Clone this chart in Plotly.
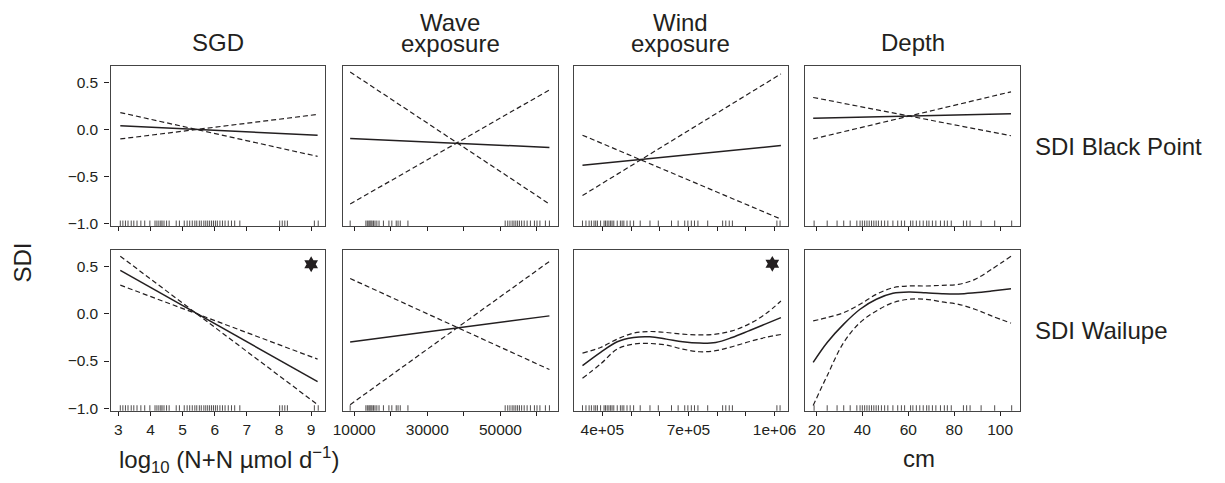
import plotly.graph_objects as go
from plotly.subplots import make_subplots

W, H = 1225, 483
INK = "#231f20"
FONT = "Liberation Sans, Arial, sans-serif"

# ---------------- data ----------------
col_titles = [["SGD"], ["Wave", "exposure"], ["Wind", "exposure"], ["Depth"]]
row_labels = ["SDI Black Point", "SDI Wailupe"]

# SGD (log10 N+N)
sgd_x = [3.06, 9.20]
sgd_bp_fit = [0.04, -0.06]
sgd_bp_lo = [0.18, -0.285]
sgd_bp_hi = [-0.10, 0.16]
sgd_wl_fit = [0.455, -0.717]
sgd_wl_lo = [0.605, -0.96]
sgd_wl_hi = [0.30, -0.48]

# Wave exposure
wave_x = [8900, 63400]
wave_bp_fit = [-0.094, -0.19]
wave_bp_lo = [0.61, -0.79]
wave_bp_hi = [-0.79, 0.42]
wave_wl_fit = [-0.30, -0.024]
wave_wl_lo = [0.37, -0.59]
wave_wl_hi = [-0.96, 0.55]

# Wind exposure
wind_x_bp = [331000, 1022000]
wind_bp_fit = [-0.38, -0.17]
wind_bp_lo = [-0.06, -0.95]
wind_bp_hi = [-0.70, 0.59]
wind_x_wl = [331000, 394000, 452000, 509000, 566000, 623000, 680000, 738000,
             795000, 852000, 910000, 967000, 1022000]
wind_wl_fit = [-0.549, -0.409, -0.297, -0.252, -0.245, -0.269, -0.297, -0.311,
               -0.304, -0.252, -0.182, -0.111, -0.042]
wind_wl_hi = [-0.416, -0.357, -0.269, -0.206, -0.189, -0.199, -0.217, -0.224,
              -0.217, -0.182, -0.111, -0.007, 0.133]
wind_wl_lo = [-0.682, -0.531, -0.374, -0.321, -0.315, -0.332, -0.374, -0.402,
              -0.391, -0.349, -0.297, -0.252, -0.220]

# Depth (cm)
depth_x_bp = [18.6, 104.7]
depth_bp_fit = [0.12, 0.167]
depth_bp_lo = [0.34, -0.066]
depth_bp_hi = [-0.10, 0.40]
depth_x_wl = [18.6, 24.7, 31.9, 39.0, 46.1, 53.3, 60.4, 67.6, 74.7, 81.9, 89.0, 96.2, 104.7]
depth_wl_fit = [-0.514, -0.304, -0.111, 0.046, 0.151, 0.214, 0.228, 0.220, 0.210,
                0.207, 0.220, 0.238, 0.262]
depth_wl_hi = [-0.077, -0.042, 0.010, 0.098, 0.203, 0.273, 0.291, 0.291, 0.298,
               0.308, 0.361, 0.466, 0.605]
depth_wl_lo = [-0.969, -0.654, -0.304, -0.094, 0.028, 0.115, 0.151, 0.151, 0.123,
               0.098, 0.046, -0.024, -0.101]

# rug (observed covariate values)
sgd_rug = [3.06, 3.14, 3.22, 3.30, 3.40, 3.48, 3.58, 3.70, 3.82, 3.98, 4.14, 4.20,
           4.26, 4.32, 4.36, 4.42, 4.50, 4.58, 4.80, 4.90, 5.05, 5.14, 5.22, 5.30,
           5.38, 5.44, 5.52, 5.58, 5.66, 5.72, 5.78, 5.84, 5.90, 5.96, 6.02, 6.08,
           6.16, 6.24, 6.32, 6.42, 6.52, 6.62, 6.78, 8.02, 8.10, 8.18, 8.26, 9.10, 9.22]
wave_rug = [8900, 13200, 13600, 14000, 14300, 14600, 14900, 15300, 15700, 16200,
            16800, 18000, 19500, 20300, 21500, 22000, 22600, 24700, 51300, 52000,
            52600, 53200, 53700, 54200, 54700, 55200, 55800, 56500, 57300, 58200,
            59300, 60000, 60800, 62300, 63400]
wind_rug = [331000, 343000, 354000, 362000, 371000, 377000, 383000, 394000, 406000,
            411000, 417000, 423000, 429000, 434000, 440000, 452000, 463000, 469000,
            475000, 486000, 497000, 509000, 532000, 566000, 595000, 641000, 664000,
            687000, 698000, 710000, 721000, 733000, 767000, 819000, 830000, 842000,
            853000, 1008000, 1019000]
depth_rug = [19, 24.7, 29, 31.9, 34.7, 37.6, 39, 40, 41, 42, 43, 44, 45, 46, 47,
             48.3, 49.7, 51.1, 53.3, 55.4, 57, 58.4, 61, 62, 63.5, 65, 66.5, 68, 69,
             70.5, 72, 74, 75.7, 77, 78.7, 84, 85.4, 86.9, 91.7, 97.6, 105]

# significance stars (panel: (x, y))
star_sgd = [9.0, 0.52]
star_wind = [992000, 0.525]

# axis ticks: labelled ticks and unlabelled (minor) tick marks
y_ticks = [-1.0, -0.5, 0.0, 0.5]
y_ticktext = ["\u22121.0", "\u22120.5", "0.0", "0.5"]
sgd_ticks = [3, 4, 5, 6, 7, 8, 9]
sgd_ticktext = ["3", "4", "5", "6", "7", "8", "9"]
sgd_minor = []
wave_ticks = [10000, 30000, 50000]
wave_ticktext = ["10000", "30000", "50000"]
wave_minor = [20000, 40000, 60000]
wind_ticks = [400000, 700000, 1000000]
wind_ticktext = ["4e+05", "7e+05", "1e+06"]
wind_minor = [500000, 600000, 800000, 900000]
depth_ticks = [20, 40, 60, 80, 100]
depth_ticktext = ["20", "40", "60", "80", "100"]
depth_minor = []

# ---------------- layout geometry ----------------
x_ranges = [[2.755, 9.44], [6950, 65700], [300000, 1048000], [15.1, 108.6]]
y_range = [-1.025, 0.672]
col_px = [(102, 320), (338, 556), (572, 790), (807, 1025)]
row_px = [(67, 229), (253, 416)]


def px_x(p):
    return p / W


def px_y(p):
    return 1 - p / H


fig = make_subplots(rows=2, cols=4)

panels = {
    (1, 1): (sgd_x, sgd_bp_fit, sgd_bp_lo, sgd_bp_hi),
    (1, 2): (wave_x, wave_bp_fit, wave_bp_lo, wave_bp_hi),
    (1, 3): (wind_x_bp, wind_bp_fit, wind_bp_lo, wind_bp_hi),
    (1, 4): (depth_x_bp, depth_bp_fit, depth_bp_lo, depth_bp_hi),
    (2, 1): (sgd_x, sgd_wl_fit, sgd_wl_lo, sgd_wl_hi),
    (2, 2): (wave_x, wave_wl_fit, wave_wl_lo, wave_wl_hi),
    (2, 3): (wind_x_wl, wind_wl_fit, wind_wl_lo, wind_wl_hi),
    (2, 4): (depth_x_wl, depth_wl_fit, depth_wl_lo, depth_wl_hi),
}
rugs = [sgd_rug, wave_rug, wind_rug, depth_rug]
ticks = [(sgd_ticks, sgd_ticktext, sgd_minor), (wave_ticks, wave_ticktext, wave_minor),
         (wind_ticks, wind_ticktext, wind_minor), (depth_ticks, depth_ticktext, depth_minor)]

for (r, c), (xs, fit, lo, hi) in panels.items():
    smooth = len(xs) > 2
    for ys in (lo, hi):
        fig.add_trace(go.Scatter(x=xs, y=ys, mode="lines",
                                 line=dict(color=INK, width=1.2, dash="5px,3px",
                                           shape="spline" if smooth else "linear"),
                                 showlegend=False, hoverinfo="skip"), row=r, col=c)
    fig.add_trace(go.Scatter(x=xs, y=fit, mode="lines",
                             line=dict(color=INK, width=1.5,
                                       shape="spline" if smooth else "linear"),
                             showlegend=False, hoverinfo="skip"), row=r, col=c)
    fig.add_trace(go.Scatter(x=rugs[c - 1], y=[y_range[0]] * len(rugs[c - 1]),
                             mode="markers",
                             marker=dict(symbol="line-ns-open", size=8, color=INK,
                                         line=dict(color=INK, width=0.8)),
                             cliponaxis=True, showlegend=False, hoverinfo="skip"),
                  row=r, col=c)

for (r, c), pt in (((2, 1), star_sgd), ((2, 3), star_wind)):
    fig.add_trace(go.Scatter(x=[pt[0]], y=[pt[1]], mode="markers",
                             marker=dict(symbol="hexagram", size=12, color=INK,
                                         line=dict(width=0)),
                             showlegend=False, hoverinfo="skip"), row=r, col=c)

for r in (1, 2):
    for c in (1, 2, 3, 4):
        x0, x1 = col_px[c - 1]
        y0, y1 = row_px[r - 1]
        tv, tt, mv = ticks[c - 1]
        minor = dict(tickmode="array", tickvals=mv, ticks="outside", ticklen=4,
                     tickwidth=1, tickcolor=INK) if mv else None
        fig.update_xaxes(
            domain=[px_x(x0), px_x(x1)], range=x_ranges[c - 1],
            tickmode="array", tickvals=tv, ticktext=tt,
            showticklabels=(r == 2),
            ticks="outside", ticklen=4, tickwidth=1, tickcolor=INK,
            showline=True, linecolor="#444444", linewidth=1.3, mirror=True,
            showgrid=False, zeroline=False,
            tickfont=dict(family=FONT, size=15.5, color=INK),
            row=r, col=c)
        if minor:
            fig.update_xaxes(minor=minor, row=r, col=c)
        fig.update_yaxes(
            domain=[px_y(y1), px_y(y0)], range=y_range,
            tickmode="array", tickvals=y_ticks, ticktext=y_ticktext,
            showticklabels=(c == 1),
            ticks="outside" if c == 1 else "", ticklen=5, tickwidth=1, tickcolor=INK,
            ticklabelstandoff=3,
            showline=True, linecolor="#444444", linewidth=1.3, mirror=True,
            showgrid=False, zeroline=False,
            tickfont=dict(family=FONT, size=15.5, color=INK),
            row=r, col=c)

annotations = []
title_font = dict(family=FONT, size=24, color=INK)
for c, lines in enumerate(col_titles):
    cx = (col_px[c][0] + col_px[c][1]) / 2
    if len(lines) == 1:
        annotations.append(dict(text=lines[0], x=px_x(cx), y=px_y(43), xref="paper",
                                yref="paper", showarrow=False, font=title_font,
                                xanchor="center", yanchor="middle"))
    else:
        annotations.append(dict(text=lines[0], x=px_x(cx), y=px_y(23), xref="paper",
                                yref="paper", showarrow=False, font=title_font,
                                xanchor="center", yanchor="middle"))
        annotations.append(dict(text=lines[1], x=px_x(cx), y=px_y(44), xref="paper",
                                yref="paper", showarrow=False, font=title_font,
                                xanchor="center", yanchor="middle"))

for r, lab in enumerate(row_labels):
    cy = (row_px[r][0] + row_px[r][1]) / 2
    annotations.append(dict(text=lab, x=px_x(1038), y=px_y(cy), xref="paper",
                            yref="paper", showarrow=False, font=title_font,
                            xanchor="left", yanchor="middle"))

annotations.append(dict(text="SDI", x=px_x(13), y=px_y(266), xref="paper",
                        yref="paper", showarrow=False, font=title_font, textangle=-90,
                        xanchor="center", yanchor="middle"))
annotations.append(dict(text="log<sub>10</sub> (N+N \u00b5mol d<sup>\u22121</sup>)",
                        x=px_x(222), y=px_y(466), xref="paper", yref="paper",
                        showarrow=False, font=title_font,
                        xanchor="center", yanchor="middle"))
annotations.append(dict(text="cm", x=px_x(923), y=px_y(464), xref="paper",
                        yref="paper", showarrow=False, font=title_font,
                        xanchor="center", yanchor="middle"))

fig.update_layout(
    width=W, height=H, margin=dict(l=0, r=0, t=0, b=0),
    paper_bgcolor="white", plot_bgcolor="white",
    annotations=annotations, showlegend=False,
    font=dict(family=FONT, color=INK),
)

fig.write_html("out.html")
